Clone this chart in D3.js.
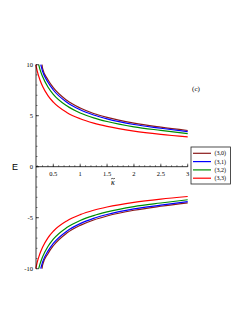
<!DOCTYPE html>
<html><head><meta charset="utf-8">
<script src="https://cdn.jsdelivr.net/npm/d3@7"></script>
<style>body{margin:0;background:#fff}svg{display:block}</style>
</head><body><svg id="c" width="249" height="323"></svg>
<script>
const seriesNames = ["(3,0)","(3,1)","(3,2)","(3,3)"];
const colors = ["#8b1a1a","#0000ff","#008c00","#ff0000"];
const kappa = [
  [0.29,0.3,0.4,0.5,0.75,1,1.25,1.5,2,2.5,3],
  [0.266,0.3,0.4,0.5,0.75,1,1.25,1.5,2,2.5,3],
  [0.228,0.25,0.3,0.4,0.5,0.75,1,1.25,1.5,2,2.5,3],
  [0.175,0.2,0.25,0.3,0.4,0.5,0.75,1,1.25,1.5,2,2.5,3]
];
const energy = [
  [10,9.65,8.53,7.75,6.51,5.75,5.22,4.83,4.27,3.88,3.55],
  [10,9.36,8.28,7.52,6.32,5.58,5.07,4.69,4.14,3.77,3.43],
  [10,9.57,8.84,7.82,7.10,5.97,5.27,4.79,4.43,3.91,3.56,3.24],
  [10,9.39,8.53,7.89,6.97,6.33,5.32,4.70,4.27,3.95,3.49,3.17,2.92]
];
const xTicks = [0.5,1,1.5,2,2.5,3];
const xTickLabels = ["0.5","1","1.5","2","2.5","3"];
const yTicks = [-10,-5,0,5,10];
const yTickLabels = ["-10","-5","0","5","10"];

const svg = d3.select("#c");
const x = d3.scaleLinear().domain([0.178,3]).range([36,187.7]);
const y = d3.scaleLinear().domain([-10,10]).range([268.7,64.7]);
const serif = "'Liberation Serif','DejaVu Serif',serif";

const g = svg.append("g");
const line = d3.line().x(d=>x(d[0])).y(d=>y(d[1])).curve(d3.curveMonotoneX);
seriesNames.forEach((n,i)=>{
  const pts = kappa[i].map((k,j)=>[k,energy[i][j]]);
  g.append("path").attr("d",line(pts)).attr("fill","none").attr("stroke",colors[i]).attr("stroke-width",1.2);
  g.append("path").attr("d",line(pts.map(p=>[p[0],-p[1]]))).attr("fill","none").attr("stroke",colors[i]).attr("stroke-width",1.2);
});
svg.append("line").attr("x1",x(0.178)).attr("x2",x(3)).attr("y1",y(0)).attr("y2",y(0)).attr("stroke","#000").attr("stroke-width",0.8);
svg.append("line").attr("x1",x(0.178)).attr("x2",x(0.178)).attr("y1",y(10)).attr("y2",y(-10)).attr("stroke","#000").attr("stroke-width",0.8);
d3.range(0.2,3.001,0.1).forEach(t=>{
  svg.append("line").attr("x1",x(t)).attr("x2",x(t)).attr("y1",y(0)).attr("y2",y(0)-1.5).attr("stroke","#000").attr("stroke-width",0.5);
});
xTicks.forEach((t,i)=>{
  svg.append("line").attr("x1",x(t)).attr("x2",x(t)).attr("y1",y(0)).attr("y2",y(0)-3).attr("stroke","#000").attr("stroke-width",0.6);
  svg.append("text").attr("x",x(t)).attr("y",y(0)+9).attr("text-anchor","middle")
    .attr("font-family",serif).attr("font-size",6.5).text(xTickLabels[i]);
});
d3.range(-10,10.001,1).forEach(t=>{
  svg.append("line").attr("x1",x(0.178)).attr("x2",x(0.178)+1.5).attr("y1",y(t)).attr("y2",y(t)).attr("stroke","#000").attr("stroke-width",0.5);
});
yTicks.forEach((t,i)=>{
  svg.append("line").attr("x1",x(0.178)).attr("x2",x(0.178)+3).attr("y1",y(t)).attr("y2",y(t)).attr("stroke","#000").attr("stroke-width",0.6);
  svg.append("text").attr("x",x(0.178)-3).attr("y",y(t)+2).attr("text-anchor","end")
    .attr("font-family",serif).attr("font-size",6.5).text(yTickLabels[i]);
});
svg.append("text").attr("x",15).attr("y",169.5).attr("text-anchor","middle")
  .attr("font-family","'Liberation Sans',Arial,sans-serif").attr("font-size",9).text("E");
// tilde accent drawn as a small stroke above kappa
svg.append("path").attr("d","M111,179.2 Q112,177.6 113,178.6 T115,178")
  .attr("fill","none").attr("stroke","#000").attr("stroke-width",0.6);
svg.append("text").attr("x",112.8).attr("y",184.5).attr("text-anchor","middle")
  .attr("font-family",serif).attr("font-style","italic").attr("font-size",8).text("\u03BA");
svg.append("text").attr("x",196).attr("y",91).attr("text-anchor","middle")
  .attr("font-family",serif).attr("font-size",7).text("(c)");
const lg = svg.append("g");
lg.append("rect").attr("x",191).attr("y",147).attr("width",39.5).attr("height",37)
  .attr("fill","#fff").attr("stroke","#222").attr("stroke-width",0.8);
seriesNames.forEach((n,i)=>{
  const yy = 153.3 + i*8.3;
  lg.append("line").attr("x1",193).attr("x2",211).attr("y1",yy).attr("y2",yy).attr("stroke",colors[i]).attr("stroke-width",1.2);
  lg.append("text").attr("x",214.5).attr("y",yy+2).attr("font-family",serif).attr("font-size",6).text(n);
});
</script></body></html>
